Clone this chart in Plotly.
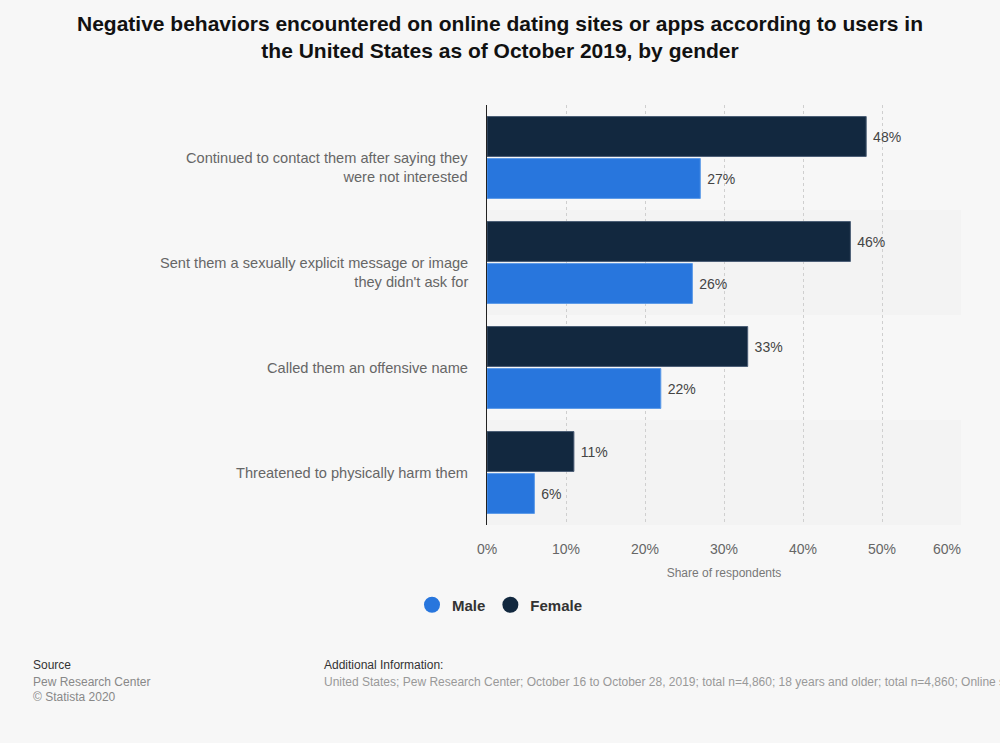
import plotly.graph_objects as go

categories = [
    "Continued to contact them after saying they<br>were not interested",
    "Sent them a sexually explicit message or image<br>they didn't ask for",
    "Called them an offensive name",
    "Threatened to physically harm them",
]
female = [48, 46, 33, 11]
male = [27, 26, 22, 6]
x_ticks = [0, 10, 20, 30, 40, 50, 60]

FONT = "Liberation Sans, Arial, sans-serif"
FEMALE_C = "#12283f"
MALE_C = "#2876dd"

fig = go.Figure()
fig.add_trace(go.Bar(
    y=categories, x=female, name="Female", orientation="h",
    marker=dict(color=FEMALE_C, line=dict(color="#4a5d75", width=1)),
    text=[f" {v}%" for v in female], textposition="outside",
    textfont=dict(size=14, color="#444", family=FONT), cliponaxis=False,
    showlegend=False,
))
fig.add_trace(go.Bar(
    y=categories, x=male, name="Male", orientation="h",
    marker=dict(color=MALE_C, line=dict(color="#5c9ae8", width=1)),
    text=[f" {v}%" for v in male], textposition="outside",
    textfont=dict(size=14, color="#444", family=FONT), cliponaxis=False,
    showlegend=False,
))
# legend entries with circle markers
for nm, c in [("Male", MALE_C), ("Female", FEMALE_C)]:
    fig.add_trace(go.Scatter(
        x=[None], y=[None], mode="markers", name=f"<b>{nm}</b>",
        marker=dict(symbol="circle", size=16, color=c), showlegend=True,
    ))

# subtle alternating category bands
for i in [1, 3]:
    fig.add_shape(type="rect", xref="paper", yref="y", x0=0, x1=1,
                  y0=i - 0.5, y1=i + 0.5, fillcolor="#f3f3f3",
                  line=dict(width=0), layer="below")

# category labels (multi-line labels start at the category centre, as in the source)
for cat in categories:
    nlines = cat.count("<br>") + 1
    fig.add_annotation(text=cat, xref="paper", yref="y", x=0, y=cat,
                       xanchor="right", yanchor="middle", align="right",
                       xshift=-17, yshift=-9.5 * (nlines - 1), showarrow=False,
                       font=dict(size=14.6, color="#666", family=FONT))

tick_text = [f"{v}%" for v in x_ticks]
last_label = tick_text[-1]
tick_text[-1] = ""
fig.add_annotation(text=last_label, xref="x", yref="paper", x=x_ticks[-1], y=0,
                   xanchor="right", yanchor="top", yshift=-14, xshift=2,
                   showarrow=False, font=dict(size=14, color="#666", family=FONT))

fig.update_layout(
    width=1000, height=743,
    paper_bgcolor="#f7f7f7", plot_bgcolor="#f7f7f7",
    margin=dict(l=487, r=39, t=105, b=218),
    barmode="group", bargap=0.2, bargroupgap=0.05,
    font=dict(family=FONT, color="#666"),
    title=dict(
        text="<b>Negative behaviors encountered on online dating sites or apps according to users in<br>the United States as of October 2019, by gender</b>",
        x=0.5, xanchor="center", xref="container",
        y=1 - 31 / 743, yanchor="middle", yref="container",
        font=dict(size=21, color="#111", family=FONT),
    ),
    xaxis=dict(
        range=[0, 60], tickvals=x_ticks, ticktext=tick_text,
        tickfont=dict(size=14, color="#666"), ticks="", ticklabelstandoff=14,
        showgrid=True, gridcolor="#cfcfcf", griddash="dot", gridwidth=1,
        zeroline=False, showline=False,
        title=dict(text="Share of respondents", font=dict(size=12, color="#777"), standoff=12),
    ),
    yaxis=dict(
        autorange="reversed", showticklabels=False,
        ticks="", showline=True, linecolor="#222", linewidth=1,
        showgrid=False,
    ),
    legend=dict(
        orientation="h", x=0.5, xanchor="center", xref="container",
        y=1 - 605 / 743, yanchor="middle", yref="container",
        font=dict(size=15, color="#333", family=FONT),
        traceorder="normal",
    ),
    showlegend=True,
)

foot = [
    (31, 665, "Source", "#333", 12),
    (31, 682, "Pew Research Center", "#888", 12),
    (31, 697, "© Statista 2020", "#888", 12),
    (322, 665, "Additional Information:", "#333", 12),
    (322, 682, "United States; Pew Research Center; October 16 to October 28, 2019; total n=4,860; 18 years and older; total n=4,860; Online survey", "#999", 12),
]
for xp, yp, t, c, s in foot:
    fig.add_annotation(text=t, xref="paper", yref="paper",
                       x=(xp - 487) / 474, y=(743 - 218 - yp) / 420,
                       xanchor="left", yanchor="middle", showarrow=False,
                       font=dict(size=s, color=c, family=FONT))

fig.write_html("out.html", config={"displayModeBar": False},
               post_script="document.body.style.margin='0';document.body.style.overflow='hidden';")
